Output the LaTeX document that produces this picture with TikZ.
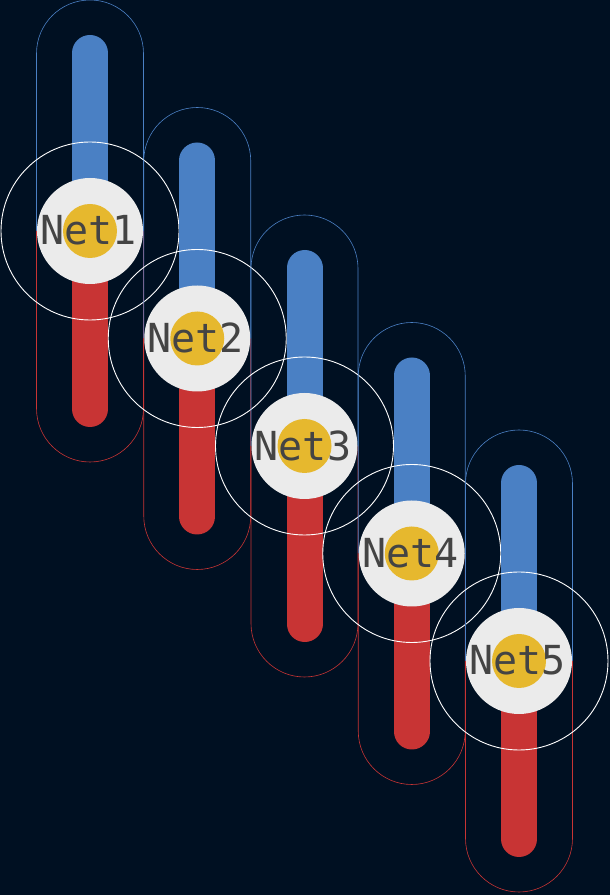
\documentclass[tikz,border=0pt]{standalone}
\usepackage{fontspec}
\newfontfamily\monof{DejaVu Sans Mono}
\definecolor{bgc}{RGB}{0,16,34}
\definecolor{bluec}{RGB}{74,128,196}
\definecolor{redc}{RGB}{200,52,52}
\definecolor{discc}{RGB}{235,235,235}
\definecolor{yelc}{RGB}{230,184,46}
\definecolor{txtc}{RGB}{68,68,68}
\tikzset{
  outlineblue/.style={draw=bluec, line width=0.6pt},
  outlinered/.style={draw=redc, line width=0.6pt},
  barblue/.style={draw=bluec, line width=36pt, line cap=round},
  barred/.style={draw=redc, line width=36pt, line cap=round},
  halo/.style={draw=white, line width=0.9pt},
  disc/.style={fill=discc},
  core/.style={fill=yelc},
  netlabel/.style={text=txtc, font=\monof\fontsize{40}{40}\selectfont, inner sep=0pt}
}
\begin{document}
\begin{tikzpicture}[x=1pt,y=1pt]
\fill[bgc] (0,0) rectangle (610,895);
\useasboundingbox (0,0) rectangle (610,895);
\foreach \i in {1,...,5}{
  \pgfmathsetmacro{\cx}{90+107.25*(\i-1)}
  \pgfmathsetmacro{\cy}{664-107.5*(\i-1)}
  \coordinate (c\i) at (\cx,\cy);
  % capsule outline
  \draw[outlineblue] ([xshift=-53.5pt]c\i) -- ++(0,177.5) arc[start angle=180,end angle=0,radius=53.5pt] -- ([xshift=53.5pt]c\i);
  \draw[outlinered] ([xshift=-53.5pt]c\i) -- ++(0,-177.5) arc[start angle=180,end angle=360,radius=53.5pt] -- ([xshift=53.5pt]c\i);
  % bar
  \coordinate (t\i) at ([yshift=178pt]c\i);
  \coordinate (b\i) at ([yshift=-178pt]c\i);
  \draw[barblue] (c\i) -- (t\i);
  \draw[barred] (c\i) -- (b\i);
  % halo
  \draw[halo] (c\i) circle[radius=89pt];
  % disc
  \fill[disc] (c\i) circle[radius=53pt];
  \fill[core] (c\i) circle[radius=27pt];
  \node[netlabel] (n\i) at ([xshift=-1.5pt,yshift=0.5pt]c\i) {Net\i};
}
\end{tikzpicture}
\end{document}
